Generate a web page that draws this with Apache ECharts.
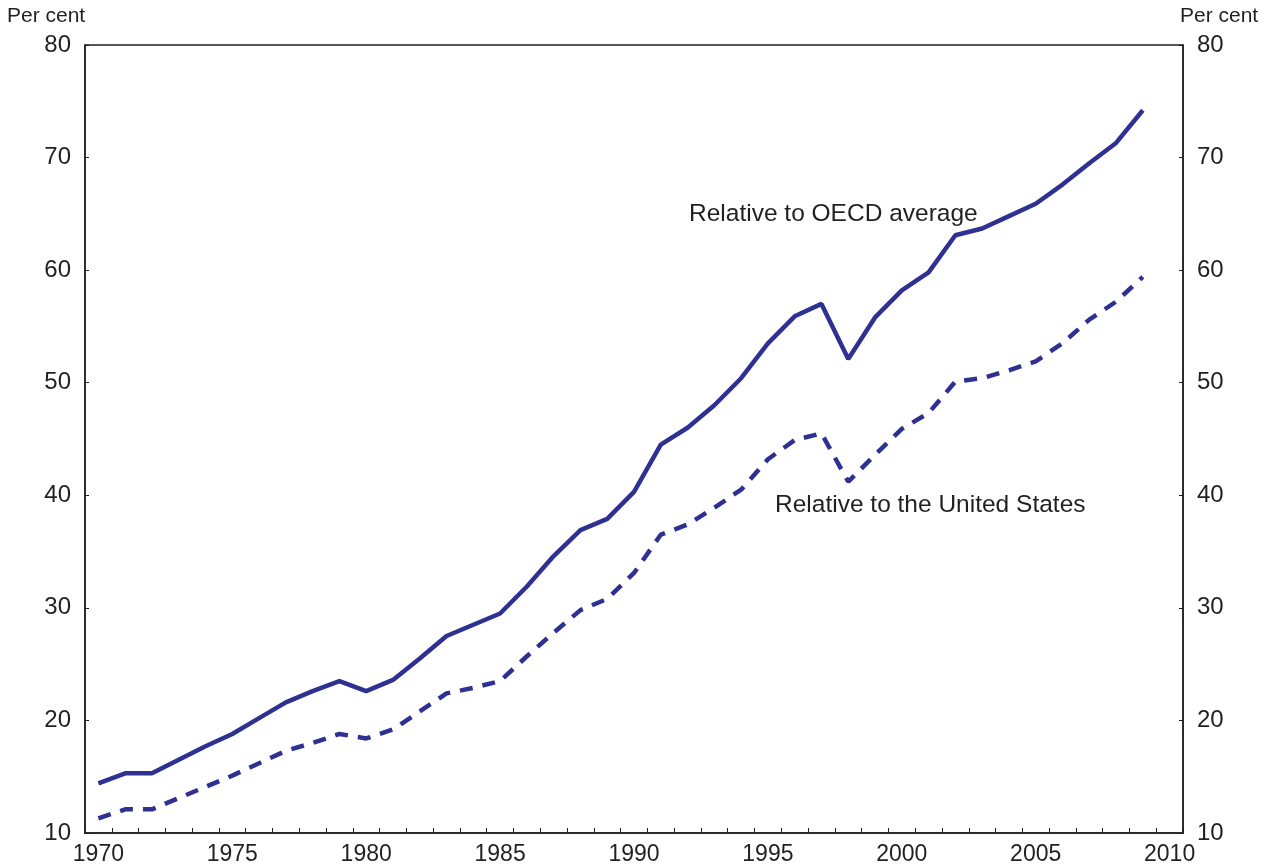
<!DOCTYPE html>
<html>
<head>
<meta charset="utf-8">
<script src="https://cdn.jsdelivr.net/npm/echarts@6/dist/echarts.min.js"></script>
<style>
html,body{margin:0;padding:0;background:#fff;}
#chart{width:1274px;height:867px;}
</style>
</head>
<body>
<div id="chart"></div>
<script>
var years = [];
for (var y = 1970; y <= 2010; y++) years.push(String(y));

var oecdRelative = [14.4, 15.3, 15.3, 16.5, 17.7, 18.8, 20.2, 21.6, 22.6, 23.5,
  22.6, 23.6, 25.5, 27.5, 28.5, 29.5, 31.9, 34.6, 36.9, 37.9,
  40.3, 44.5, 46.0, 48.0, 50.4, 53.5, 55.9, 57.0, 52.1, 55.8,
  58.2, 59.8, 63.1, 63.7, 64.8, 65.9, 67.6, 69.5, 71.3, 74.2];

var usRelative = [11.3, 12.1, 12.1, 13.1, 14.1, 15.1, 16.2, 17.3, 18.0, 18.8,
  18.4, 19.2, 20.8, 22.4, 22.9, 23.5, 25.7, 27.8, 29.8, 30.8,
  33.1, 36.5, 37.4, 38.9, 40.5, 43.2, 44.9, 45.5, 41.2, 43.6,
  45.9, 47.3, 50.1, 50.4, 51.1, 51.9, 53.5, 55.6, 57.2, 59.4];

var yTicks = {min: 10, max: 80, interval: 10};
var unitLabel = 'Per cent';
var seriesNames = ['Relative to OECD average', 'Relative to the United States'];

var lineColor = '#2e3192';
var textColor = '#231f20';
var fontFam = '"Liberation Sans", Arial, sans-serif';

var chart = echarts.init(document.getElementById('chart'));

function yAxisDef(pos) {
  return {
    type: 'value', position: pos,
    min: yTicks.min, max: yTicks.max, interval: yTicks.interval,
    axisLine: {show: true, lineStyle: {color: textColor, width: 1.5}},
    axisTick: {show: true, inside: true, length: 4, lineStyle: {color: textColor}},
    axisLabel: {show: true, color: textColor, fontSize: 24, fontFamily: fontFam, margin: 14},
    splitLine: {show: false}
  };
}

chart.setOption({
  animation: false,
  backgroundColor: '#fff',
  grid: {left: 85, right: 91, top: 45, bottom: 34, show: true, borderColor: textColor, borderWidth: 1.5, backgroundColor: 'transparent'},
  xAxis: {
    type: 'category', data: years, boundaryGap: true,
    axisLine: {lineStyle: {color: textColor, width: 1.5}},
    axisTick: {show: true, inside: true, length: 5, interval: 0, lineStyle: {color: textColor}},
    axisLabel: {interval: 4, color: textColor, fontSize: 23, fontFamily: fontFam, margin: 10}
  },
  yAxis: [yAxisDef('left'), yAxisDef('right')],
  graphic: [
    {type: 'text', x: 7, y: 16, style: {text: unitLabel, fill: textColor, font: '21px ' + fontFam, textVerticalAlign: 'middle'}},
    {type: 'text', x: 1180, y: 16, style: {text: unitLabel, fill: textColor, font: '21px ' + fontFam, textVerticalAlign: 'middle'}},
    {type: 'text', x: 689, y: 214, style: {text: seriesNames[0], fill: textColor, font: '24.5px ' + fontFam, textVerticalAlign: 'middle'}},
    {type: 'text', x: 775, y: 505, style: {text: seriesNames[1], fill: textColor, font: '24.5px ' + fontFam, textVerticalAlign: 'middle'}}
  ],
  series: [
    {
      name: seriesNames[0], type: 'line', data: oecdRelative, yAxisIndex: 0,
      symbol: 'none', lineStyle: {color: lineColor, width: 4.5}
    },
    {
      name: seriesNames[1], type: 'line', data: usRelative, yAxisIndex: 0,
      symbol: 'none', lineStyle: {color: lineColor, width: 4.5, type: [13, 10]}
    }
  ]
});
</script>
</body>
</html>
